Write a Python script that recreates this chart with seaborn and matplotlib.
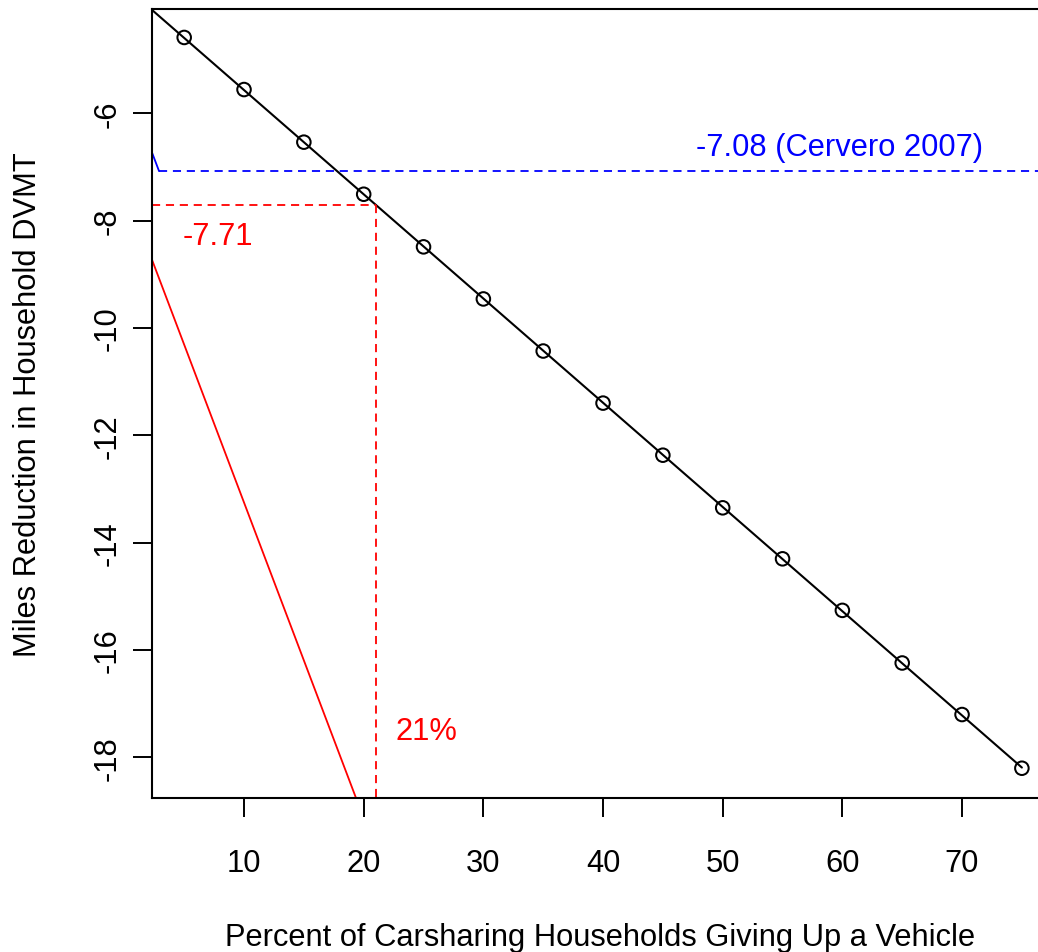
import numpy as np
import pandas as pd
import seaborn as sns
import matplotlib
matplotlib.use("Agg")
import matplotlib.pyplot as plt

# values
pct_giving_up = [5, 10, 15, 20, 25, 30, 35, 40, 45, 50, 55, 60, 65, 70, 75]
dvmt_reduction = [-4.59, -5.56, -6.54, -7.51, -8.49, -9.46, -10.43, -11.40,
                  -12.37, -13.35, -14.30, -15.26, -16.24, -17.20, -18.20]

cervero_value = -7.08
cervero_label = "-7.08 (Cervero 2007)"
cervero_cross_x = 2.9

breakeven_value = -7.71
breakeven_pct = 21
breakeven_label = "-7.71"
pct_label = "21%"

red_slope = -0.588
red_anchor = (2.31, -8.73)

x_ticks = [10, 20, 30, 40, 50, 60, 70]
y_ticks = [-18, -16, -14, -12, -10, -8, -6]
x_title = "Percent of Carsharing Households Giving Up a Vehicle"
y_title = "Miles Reduction in Household DVMT"

sns.set_theme(style="ticks", rc={"text.color": "black", "xtick.color": "black",
                                 "ytick.color": "black", "axes.edgecolor": "black"})
plt.rcParams["font.family"] = ["Liberation Sans", "DejaVu Sans"]
FS = 22.2

W, H = 1038, 953
fig = plt.figure(figsize=(W / 100, H / 100), dpi=100)

xlim = (2.31, 77.7)
ylim = (-18.76, -4.06)
px_per_x = 11.967
left_px, top_px, bottom_px = 152, 10, 799.3
right_px = left_px + (xlim[1] - xlim[0]) * px_per_x
ax = fig.add_axes([left_px / W, (H - bottom_px) / H,
                   (right_px - left_px) / W, (bottom_px - top_px) / H])
ax.set_xlim(*xlim)
ax.set_ylim(*ylim)

df = pd.DataFrame({"pct": pct_giving_up, "dvmt": dvmt_reduction})

# straight fit, drawn from the left edge of the panel to the last point
slope, intercept = np.polyfit(df["pct"], df["dvmt"], 1)
line_x = np.array([xlim[0], df["pct"].max()])
line_df = pd.DataFrame({"pct": line_x, "dvmt": intercept + slope * line_x})
sns.lineplot(data=line_df, x="pct", y="dvmt", ax=ax, color="black", lw=1.5)
sns.scatterplot(data=df, x="pct", y="dvmt", ax=ax, s=95, facecolor="none",
                edgecolor="black", linewidth=1.45, zorder=3)

# red solid line
ax.axline(red_anchor, slope=red_slope, color="red", lw=1.3)

# red dashed guide lines
dash = (0, (4.5, 3.2))
ax.plot([xlim[0], breakeven_pct], [breakeven_value, breakeven_value],
        color="red", lw=1.3, linestyle=dash)
ax.plot([breakeven_pct, breakeven_pct], [breakeven_value, ylim[0]],
        color="red", lw=1.3, linestyle=dash)

# blue Cervero line
ax.plot([xlim[0], cervero_cross_x],
        [cervero_value + red_slope * (xlim[0] - cervero_cross_x), cervero_value],
        color="blue", lw=1.3)
ax.plot([cervero_cross_x, xlim[1]], [cervero_value, cervero_value],
        color="blue", lw=1.3, linestyle=dash)

ax.text(59.76, -6.63, cervero_label, color="blue", fontsize=FS,
        ha="center", va="center")
ax.text(7.79, -8.29, breakeven_label, color="red", fontsize=FS,
        ha="center", va="center")
ax.text(25.25, -17.5, pct_label, color="red", fontsize=FS,
        ha="center", va="center")

ax.set_xticks(x_ticks)
ax.set_yticks(y_ticks)
ax.set_xticklabels([str(t) for t in x_ticks], fontsize=FS)
ax.set_yticklabels([str(t) for t in y_ticks], fontsize=FS, rotation=90, va="center")
ax.tick_params(axis="both", length=13.5, width=1.4, color="black")
ax.tick_params(axis="x", pad=22)
ax.tick_params(axis="y", pad=8)
for s in ["left", "top", "bottom", "right"]:
    ax.spines[s].set_linewidth(1.5)

ax.set_xlabel("")
ax.set_ylabel("")
fig.text(600 / W, 1 - 938 / H, x_title, fontsize=FS, ha="center", va="center")
fig.text(28 / W, 1 - 405 / H, y_title, fontsize=FS, ha="center", va="center",
         rotation=90)

fig.savefig("out.png", dpi=100)
